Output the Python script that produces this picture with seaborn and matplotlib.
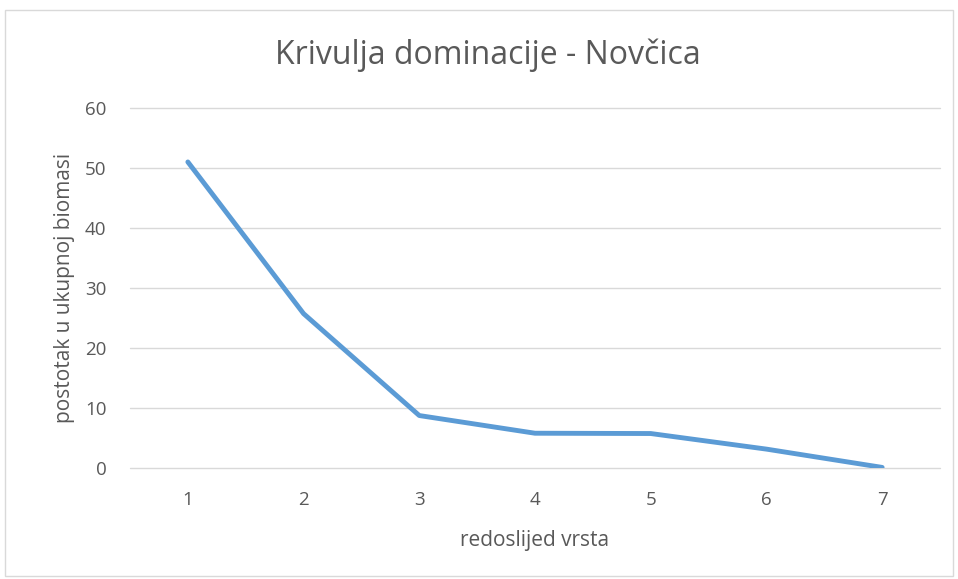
import matplotlib
matplotlib.use("Agg")
import matplotlib.pyplot as plt
import seaborn as sns
import pandas as pd
from matplotlib.patches import Rectangle

ranks = [1, 2, 3, 4, 5, 6, 7]
percent = [51.0, 25.7, 8.7, 5.75, 5.7, 3.1, 0.05]
yticks = [0, 10, 20, 30, 40, 50, 60]

df = pd.DataFrame({"rank": ranks, "percent": percent})

sns.set_theme(style="white")
plt.rcParams['font.family'] = ['Open Sans', 'DejaVu Sans']

fig = plt.figure(figsize=(9.58, 5.79), dpi=100)
ax = fig.add_axes([130/958, 1-467.7/579, (940-130)/958, (467.7-108)/579])

sns.lineplot(data=df, x="rank", y="percent", ax=ax, color="#5B9BD5",
             linewidth=3.5, solid_capstyle="round", solid_joinstyle="round")

ax.set_xlim(0.5, 7.5)
ax.set_ylim(0, 60)
ax.set_yticks(yticks)
ax.set_xticks(ranks)
ax.set_xticklabels([str(r) for r in ranks])
ax.yaxis.grid(True, color="#D9D9D9", linewidth=1.0)
for gl in ax.get_ygridlines():
    gl.set_clip_on(False)
ax.set_axisbelow(True)
for s in ax.spines.values():
    s.set_visible(False)
ax.tick_params(axis="both", length=0, labelsize=13.5, colors="#595959")
ax.tick_params(axis="x", pad=17)
ax.tick_params(axis="y", pad=17)
ax.set_xlabel("redoslijed vrsta", fontsize=15, color="#595959", labelpad=15)
ax.set_ylabel("postotak u ukupnoj biomasi", fontsize=15, color="#595959", labelpad=7)

fig.text(488/958, 1-55/579, "Krivulja dominacije - Novčica", ha="center", va="center",
         fontsize=23, color="#595959")

fig.patches.append(Rectangle((5/958, 3/579), 948/958, 1-13/579, transform=fig.transFigure,
                             fill=False, edgecolor="#D9D9D9", linewidth=1.0))

fig.savefig("out.png", dpi=100)
